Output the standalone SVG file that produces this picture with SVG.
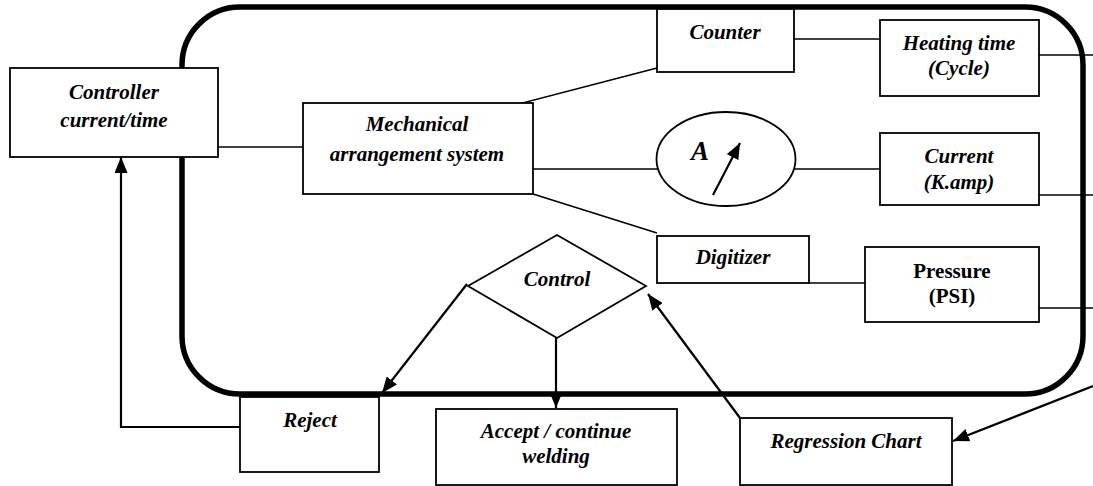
<svg xmlns="http://www.w3.org/2000/svg" width="1093" height="486" viewBox="0 0 1093 486">
<style>
.box{fill:#fff;stroke:#000;stroke-width:1.8}
.t{font-family:"Liberation Serif","Times New Roman",serif;font-size:21px;font-weight:bold;font-style:italic;text-anchor:middle;fill:#000}
.tb{font-family:"Liberation Serif","Times New Roman",serif;font-size:21px;font-weight:bold;text-anchor:middle;fill:#000}
.ln{fill:none;stroke:#000;stroke-width:1.6}
.ar{fill:none;stroke:#000;stroke-width:2.2;marker-end:url(#ah)}
</style>
<defs>
<marker id="ah" viewBox="0 0 16 13" refX="16" refY="6.5" markerWidth="16" markerHeight="13" markerUnits="userSpaceOnUse" orient="auto">
<path d="M0,0 L16,6.5 L0,13 z" fill="#000"/>
</marker>
</defs>
<g id="system-boundary">
<rect x="182" y="7" width="901" height="387" rx="58" ry="58" fill="none" stroke="#000" stroke-width="5.5"/>
</g>
<g id="connectors">
<line class="ln" x1="218" y1="147" x2="303" y2="147"/>
<line class="ln" x1="488" y1="112" x2="657" y2="68"/>
<line class="ln" x1="533" y1="169" x2="657" y2="169"/>
<line class="ln" x1="533" y1="194" x2="657" y2="233"/>
<line class="ln" x1="794" y1="39" x2="880" y2="39"/>
<line class="ln" x1="795" y1="169" x2="880" y2="169"/>
<line class="ln" x1="809" y1="283" x2="865" y2="283"/>
<line class="ln" x1="1039" y1="55" x2="1093" y2="55"/>
<line class="ln" x1="1039" y1="195" x2="1093" y2="195"/>
<line class="ln" x1="1039" y1="308" x2="1093" y2="308"/>
<line class="ar" x1="467" y1="284" x2="382" y2="393"/>
<line class="ar" x1="556" y1="338" x2="556" y2="408"/>
<line class="ar" x1="740" y1="418" x2="648" y2="294"/>
<line class="ar" x1="1093" y1="386" x2="953" y2="441"/>
<polyline class="ar" points="240,427 121,427 121,157"/>
</g>
<g id="controller">
<rect class="box" x="10" y="68" width="208" height="89"/>
<text class="t" x="114" y="99">Controller</text>
<text class="t" x="114" y="127">current/time</text>
</g>
<g id="mechanical">
<rect class="box" x="303" y="103" width="230" height="91"/>
<text class="t" x="417" y="131">Mechanical</text>
<text class="t" x="417" y="161">arrangement system</text>
</g>
<g id="counter">
<rect class="box" x="657" y="9" width="137" height="63"/>
<text class="t" x="725" y="39">Counter</text>
</g>
<g id="ammeter">
<ellipse cx="726" cy="159" rx="69.5" ry="47" fill="#fff" stroke="#000" stroke-width="1.8"/>
<text x="700" y="160" font-family="Liberation Serif, serif" font-size="27" font-weight="bold" font-style="italic" text-anchor="middle">A</text>
<line class="ar" x1="713" y1="195" x2="740" y2="143"/>
</g>
<g id="digitizer">
<rect class="box" x="657" y="236" width="152" height="47"/>
<text class="t" x="733" y="264">Digitizer</text>
</g>
<g id="heating">
<rect class="box" x="880" y="20" width="159" height="76"/>
<text class="t" x="959" y="50">Heating time</text>
<text class="t" x="959" y="75">(Cycle)</text>
</g>
<g id="current">
<rect class="box" x="880" y="133" width="159" height="72"/>
<text class="t" x="959" y="163">Current</text>
<text class="t" x="959" y="189">(K.amp)</text>
</g>
<g id="pressure">
<rect class="box" x="865" y="247" width="174" height="75"/>
<text class="tb" x="952" y="278">Pressure</text>
<text class="tb" x="952" y="303">(PSI)</text>
</g>
<g id="control">
<polygon class="box" points="557,235 646,286 557,338 468,286"/>
<text class="t" x="557" y="286">Control</text>
</g>
<g id="reject">
<rect class="box" x="240" y="397" width="139" height="75"/>
<text class="t" x="310" y="427">Reject</text>
</g>
<g id="accept">
<rect class="box" x="436" y="409" width="241" height="76"/>
<text class="t" x="556" y="438">Accept / continue</text>
<text class="t" x="556" y="463">welding</text>
</g>
<g id="regression">
<rect class="box" x="740" y="418" width="212" height="67"/>
<text class="t" x="846" y="448">Regression Chart</text>
</g>
</svg>
